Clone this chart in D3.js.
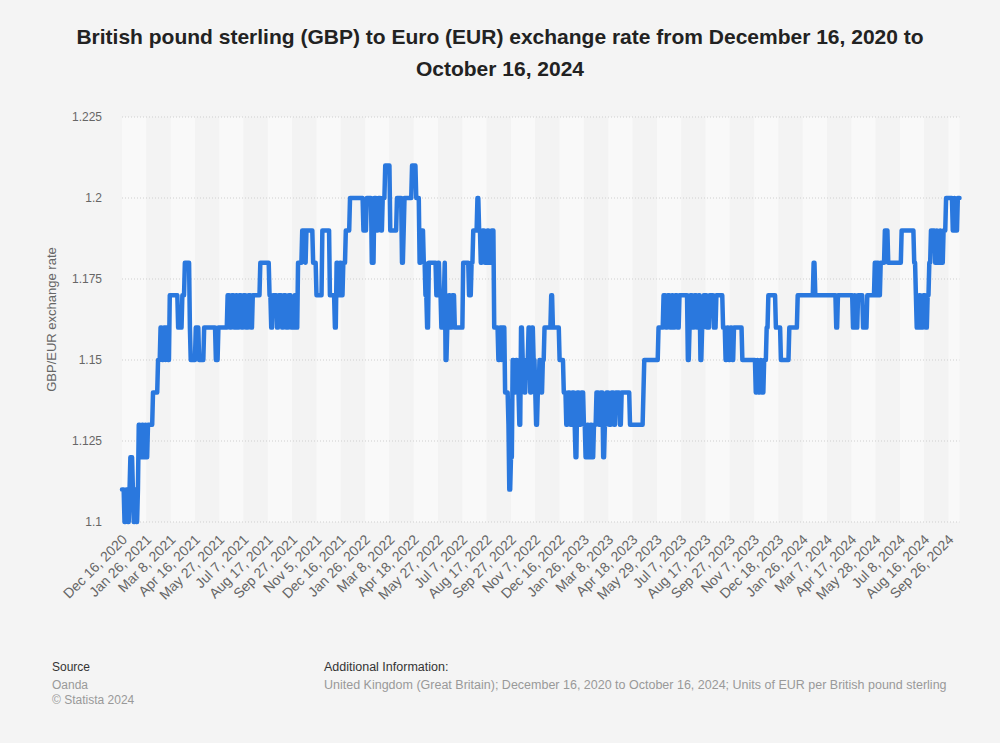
<!DOCTYPE html>
<html>
<head>
<meta charset="utf-8">
<script src="https://cdn.jsdelivr.net/npm/d3@7"></script>
<style>
  html, body { margin: 0; padding: 0; background: #f4f4f4; }
  svg { display: block; font-family: "Liberation Sans", Arial, sans-serif; }
</style>
</head>
<body>
<svg id="chart" width="1000" height="743"></svg>
<script>
// ---- Data ----
// Daily (business-day) GBP/EUR rate, encoded as runs of equal values
const runValues = [
  1.11,1.10,1.11,1.10,1.11,1.12,1.11,1.10,1.11,1.10,
  1.11,1.13,1.12,1.13,1.12,1.13,1.12,1.13,
  1.14,1.15,1.16,1.15,1.16,1.15,1.16,1.15,1.17,1.16,1.17,1.18,1.16,1.15,1.16,1.15,1.16,1.15,1.16,
  1.17,1.16,1.17,1.16,1.17,1.16,1.17,1.16,1.17,1.16,1.17,1.16,1.17,1.18,
  1.17,1.16,1.17,1.16,1.17,1.16,1.17,1.16,1.17,1.16,1.17,1.16,
  1.18,1.19,1.18,1.19,1.18,1.17,1.19,1.17,1.16,1.18,1.17,1.18,1.17,1.18,1.19,1.20,1.19,1.20,1.18,
  1.20,1.19,1.20,1.19,1.20,1.21,1.19,1.20,1.18,1.19,1.20,1.21,1.20,1.18,1.19,1.18,1.17,1.16,1.18,
  1.17,1.18,1.17,1.16,1.17,1.18,1.15,1.16,1.17,1.16,1.17,1.16,1.18,1.17,1.18,1.19,1.20,1.19,1.18,
  1.19,1.18,1.19,1.18,1.19,1.16,1.15,1.16,1.15,1.16,1.14,1.13,1.11,1.12,1.15,1.14,1.15,1.14,1.13,
  1.16,1.15,1.14,1.15,1.16,1.14,1.16,1.15,1.14,1.13,1.14,1.15,1.14,1.15,1.16,1.17,1.16,1.15,
  1.14,1.13,1.14,1.13,1.14,1.13,1.12,1.14,1.13,1.14,1.13,1.12,1.13,1.12,1.13,1.12,1.13,1.14,1.13,
  1.14,1.12,1.13,1.14,1.13,1.14,1.13,1.14,1.13,1.14,1.13,1.14,1.15,1.16,1.17,1.16,1.17,1.16,1.17,
  1.16,1.17,1.16,1.17,1.15,1.16,1.17,1.16,1.17,1.16,1.17,1.15,1.16,1.17,1.16,1.17,1.16,1.17,1.16,
  1.15,1.16,1.15,1.16,1.15,1.16,1.15,1.14,1.15,1.14,1.15,1.14,1.15,1.16,1.17,1.16,1.15,1.16,1.17,
  1.18,1.17,1.16,1.17,1.16,1.17,1.16,1.17,1.16,1.17,1.18,1.17,1.18,1.17,1.18,1.19,1.18,1.19,1.18,
  1.17,1.16,1.17,1.16,1.17,1.16,1.17,1.18,1.19,1.18,1.19,1.18,1.19,1.18,1.19,1.20,1.19,1.20,1.19,1.20
];
const runDays = [
  3,2,2,2,1,3,1,2,1,2,
  1,2,2,2,2,1,2,6,
  6,3,2,2,2,1,2,2,10,5,3,6,1,6,4,6,14,3,11,
  3,2,3,2,2,2,3,2,3,3,3,2,9,11,
  2,2,5,2,4,2,3,3,3,4,2,2,
  5,4,1,8,4,7,9,6,2,2,2,2,2,3,5,16,4,6,3,
  3,2,3,2,3,6,8,6,2,1,9,5,4,2,3,2,2,2,9,
  2,2,2,2,2,1,2,2,2,2,3,10,7,3,2,5,2,2,2,
  3,3,2,3,3,5,2,2,1,3,4,1,2,2,2,2,2,2,2,
  2,2,2,3,2,2,2,2,1,2,2,2,2,2,8,2,8,5,
  3,2,3,2,3,1,2,3,2,3,2,2,2,2,2,2,3,3,2,
  3,2,2,3,3,3,2,5,2,10,16,1,17,6,3,2,3,2,2,
  2,3,2,10,2,1,3,2,3,2,2,2,2,4,3,5,3,8,3,
  2,2,2,2,2,10,16,2,1,3,1,3,3,2,9,6,10,10,19,
  2,25,2,18,2,1,3,6,5,9,2,1,2,2,5,4,16,15,2,
  1,3,2,3,3,2,2,2,5,2,1,3,1,3,3,8,2,1,3,3
];
// X-axis tick labels (one every 29 business days)
const tickLabels = [
  "Dec 16, 2020","Jan 26, 2021","Mar 8, 2021","Apr 16, 2021","May 27, 2021","Jul 7, 2021",
  "Aug 17, 2021","Sep 27, 2021","Nov 5, 2021","Dec 16, 2021","Jan 26, 2022","Mar 8, 2022",
  "Apr 18, 2022","May 27, 2022","Jul 7, 2022","Aug 17, 2022","Sep 27, 2022","Nov 7, 2022",
  "Dec 16, 2022","Jan 26, 2023","Mar 8, 2023","Apr 18, 2023","May 29, 2023","Jul 7, 2023",
  "Aug 17, 2023","Sep 27, 2023","Nov 7, 2023","Dec 18, 2023","Jan 26, 2024","Mar 7, 2024",
  "Apr 17, 2024","May 28, 2024","Jul 8, 2024","Aug 16, 2024","Sep 26, 2024"
];
const tickStep = 29;
const yTicks = [1.1, 1.125, 1.15, 1.175, 1.2, 1.225];

const titleLines = [
  "British pound sterling (GBP) to Euro (EUR) exchange rate from December 16, 2020 to",
  "October 16, 2024"
];
const yAxisTitle = "GBP/EUR exchange rate";
const sourceLines = ["Oanda", "\u00A9 Statista 2024"];
const infoText = "United Kingdom (Great Britain); December 16, 2020 to October 16, 2024; Units of EUR per British pound sterling";

(function () {
// ---- Expand runs into daily series ----
const series = [];
runValues.forEach((v, i) => {
  for (let k = 0; k < runDays[i]; k++) series.push(v);
});
const n = series.length;

// ---- Layout ----
const svg = d3.select("#chart");
const pLeft = 122, pRight = 959.5, pTop = 117, pBottom = 522;

const x = d3.scaleLinear().domain([0, n - 1]).range([pLeft, pRight]);
const y = d3.scaleLinear().domain([1.1, 1.225]).range([pBottom, pTop]);

svg.append("rect").attr("width", 1000).attr("height", 743).attr("fill", "#f4f4f4");

// alternating bands
const tickIdx = tickLabels.map((_, i) => i * tickStep);
const bandEdges = tickIdx.concat([n - 1]);
for (let i = 0; i < bandEdges.length - 1; i++) {
  svg.append("rect")
    .attr("x", x(bandEdges[i]))
    .attr("y", pTop)
    .attr("width", x(bandEdges[i + 1]) - x(bandEdges[i]))
    .attr("height", pBottom - pTop)
    .attr("fill", i % 2 === 0 ? "#f9f9f9" : "#f3f3f3");
}

// gridlines
svg.append("g").selectAll("line").data(yTicks).join("line")
  .attr("x1", pLeft).attr("x2", pRight)
  .attr("y1", d => y(d)).attr("y2", d => y(d))
  .attr("stroke", "#cfcfcf").attr("stroke-width", 1)
  .attr("stroke-dasharray", "1,2");

// y axis
const yAxis = d3.axisLeft(y).tickValues(yTicks).tickSize(0).tickPadding(0)
  .tickFormat(d => String(+d.toFixed(3)));
const yg = svg.append("g").attr("transform", `translate(${pLeft - 20},0)`).call(yAxis);
yg.select(".domain").remove();
yg.selectAll("text").attr("fill", "#666").attr("font-size", 12)
  .attr("font-family", "Liberation Sans, Arial, sans-serif");

// y axis title
svg.append("text")
  .attr("transform", `translate(56,${(pTop + pBottom) / 2}) rotate(-90)`)
  .attr("text-anchor", "middle")
  .attr("fill", "#666").attr("font-size", 13)
  .text(yAxisTitle);

// x axis
const xAxis = d3.axisBottom(x).tickValues(tickIdx).tickSize(0)
  .tickFormat((d, i) => tickLabels[i]);
const xg = svg.append("g").attr("transform", `translate(0,${pBottom + 10})`).call(xAxis);
xg.select(".domain").remove();
xg.selectAll("text")
  .attr("fill", "#666").attr("font-size", 14)
  .attr("font-family", "Liberation Sans, Arial, sans-serif")
  .attr("text-anchor", "end")
  .attr("dy", "0.35em")
  .attr("y", 0)
  .attr("transform", "translate(2,5) rotate(-45)");

// line
const line = d3.line().x((d, i) => x(i)).y(d => y(d));
svg.append("path").datum(series)
  .attr("d", line)
  .attr("fill", "none")
  .attr("stroke", "#2a78de")
  .attr("stroke-width", 4.5)
  .attr("stroke-linejoin", "round")
  .attr("stroke-linecap", "round");

// title
svg.append("g").selectAll("text").data(titleLines).join("text")
  .attr("x", 500).attr("y", (d, i) => 44 + i * 32)
  .attr("text-anchor", "middle")
  .attr("font-size", 21).attr("font-weight", "bold").attr("fill", "#222")
  .text(d => d);

// footer
svg.append("text").attr("x", 52).attr("y", 671).attr("font-size", 12).attr("fill", "#333").text("Source");
svg.append("g").selectAll("text").data(sourceLines).join("text")
  .attr("x", 52).attr("y", (d, i) => 689 + i * 15)
  .attr("font-size", 12).attr("fill", "#999").text(d => d);
svg.append("text").attr("x", 324).attr("y", 671).attr("font-size", 12.5).attr("fill", "#333").text("Additional Information:");
svg.append("text").attr("x", 324).attr("y", 689).attr("font-size", 12.5).attr("fill", "#999").text(infoText);
})();
</script>
</body>
</html>
